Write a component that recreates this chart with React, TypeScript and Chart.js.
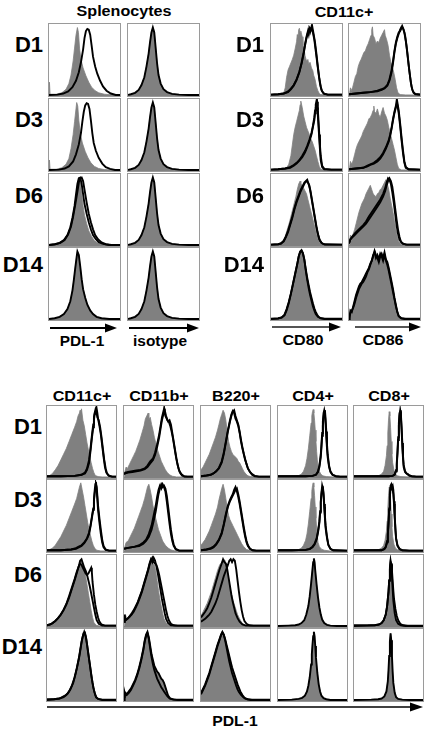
import React, { useEffect, useRef } from "react";
import { Chart, registerables } from "chart.js";
Chart.register(...registerables);

type P = number[][];

// ---------- row / column labels ----------
const ROW_LABELS = ["D1", "D3", "D6", "D14"];
const SPL_TITLE = "Splenocytes";
const DC_TITLE = "CD11c+";
const SPL_AXES = ["PDL-1", "isotype"];
const DC_AXES = ["CD80", "CD86"];
const BOT_HEADERS = ["CD11c+", "CD11b+", "B220+", "CD4+", "CD8+"];
const BOT_AXIS = "PDL-1";

// ---------- Splenocytes: PDL-1 ----------
const S_PDL_D1_G: P = [[0,0],[0.6,18],[1.5,1],[10,1],[18,3],[24,8],[28,16],[31,28],[34,48],[36,66],[38,84],[40,95],[41.5,88],[43,66],[45,50],[48,38],[52,27],[56,18],[60,11],[65,6],[70,3],[78,1],[90,0],[100,0]];
const S_PDL_D1_K: P = [[0,0],[12,0.5],[20,2],[27,5],[33,11],[38,20],[42,32],[45,46],[48,64],[50,80],[52,90],[54,93],[56,92],[58,85],[60,70],[62,54],[65,40],[68,30],[72,20],[76,12],[81,6],[87,2],[94,0],[100,0]];
const S_PDL_D3_G: P = [[0,0],[0.6,14],[1.5,1],[10,1],[18,3],[24,8],[28,16],[31,30],[34,50],[36,68],[38,86],[39,95],[40.5,90],[42,70],[44,52],[47,38],[51,26],[55,17],[59,10],[64,5],[70,2],[78,0.5],[90,0],[100,0]];
const S_PDL_D3_K: P = [[0,0],[14,0.5],[22,2],[28,5],[34,12],[38,22],[42,36],[45,52],[47,68],[49,82],[51,91],[53,94],[55,93],[57,86],[59,70],[61,52],[63,38],[66,27],[70,17],[75,9],[80,4],[86,1.5],[93,0],[100,0]];
const S_PDL_D6_G: P = [[0,0],[8,1],[15,3],[21,7],[26,14],[30,24],[33,36],[36,52],[38,68],[40,84],[42,94],[44,88],[46,72],[48,55],[50,42],[53,30],[56,20],[60,12],[64,6],[68,3],[75,1],[85,0],[100,0]];
const S_PDL_D6_K1: P = [[0,0],[8,1],[15,3],[21,7],[26,14],[30,25],[33,38],[36,55],[38,71],[40,86],[42,94],[44,95],[46,86],[48,72],[50,58],[53,44],[56,32],[59,22],[62,14],[66,8],[70,4],[76,1.5],[85,0],[100,0]];
const S_PDL_D6_K2: P = [[0,0],[9,1],[16,3],[22,7],[27,15],[31,26],[34,40],[37,57],[40,75],[42,88],[44,94],[46,95],[48,90],[50,78],[53,60],[56,44],[59,32],[62,22],[65,14],[69,8],[74,3.5],[80,1],[88,0],[100,0]];
const S_PDL_D14_G: P = [[0,0],[8,1],[15,3],[21,7],[26,14],[30,25],[33,40],[35,55],[37,72],[39,88],[40,95],[42,90],[44,74],[46,56],[48,42],[51,30],[54,20],[58,12],[62,7],[67,3],[74,1],[85,0],[100,0]];
// ---------- Splenocytes: isotype ----------
const S_ISO: P = [[0,0],[4,1],[10,3],[15,7],[19,14],[23,25],[26,40],[29,58],[31,74],[33,88],[35,95],[37,88],[39,66],[41,44],[43,28],[46,16],[50,8],[55,4],[62,1.5],[72,0.5],[85,0],[100,0]];

// ---------- CD11c+: CD80 ----------
const C80_D1_G: P = [[0,0],[10,0.5],[15,1],[18,3],[20,10],[22,25],[24,35],[26,40],[28,45],[30,50],[32,56],[34,65],[36,75],[37,85],[38,80],[39,92],[40,94],[41,88],[42,90],[44,82],[45,70],[47,62],[48,55],[50,48],[52,50],[53,44],[55,46],[57,38],[59,34],[60,28],[62,22],[64,12],[66,6],[68,2],[70,0.5],[80,0],[100,0]];
const C80_D1_K1: P = [[0,0.5],[10,1],[18,2],[24,5],[28,9],[32,14],[36,22],[40,33],[43,45],[46,60],[48,72],[50,82],[52,90],[53,86],[54,95],[56,92],[57,96],[59,88],[61,78],[63,62],[65,46],[67,30],[69,16],[71,7],[74,2],[80,0.5],[100,0.5]];
const C80_D1_K2: P = [[0,0.5],[10,1],[18,2],[24,4],[28,8],[32,13],[36,21],[40,32],[43,44],[46,58],[48,70],[50,80],[52,88],[54,92],[55,88],[57,94],[58,97],[60,86],[62,74],[64,58],[66,40],[68,24],[70,12],[72,5],[75,1.5],[80,0.5],[100,0.5]];
const C80_D3_G: P = [[0,0],[10,0.5],[18,1],[22,3],[25,8],[28,20],[30,35],[32,50],[34,60],[36,68],[38,76],[40,84],[41,92],[42,97],[44,88],[46,76],[48,68],[50,60],[52,55],[54,50],[56,44],[58,40],[60,34],[62,28],[64,20],[66,12],[68,5],[70,1],[80,0],[100,0]];
const C80_D3_K1: P = [[0,0.5],[10,1],[20,2],[27,4],[32,7],[36,10],[40,14],[44,20],[48,27],[51,34],[54,42],[57,52],[59,62],[61,74],[62,84],[63,92],[64,97],[65,88],[66,76],[67,60],[68,44],[69,28],[70,14],[72,4],[75,1],[85,0.5],[100,0.5]];
const C80_D3_K2: P = [[0,0.5],[10,1],[20,2],[27,3],[32,6],[36,9],[40,13],[44,18],[48,25],[51,32],[54,40],[57,50],[59,60],[61,70],[62,80],[63,88],[64,92],[65,96],[66,84],[67,68],[68,50],[69,34],[70,20],[72,6],[75,1.5],[85,0.5],[100,0.5]];
const C80_D6_G: P = [[0,0],[10,0.5],[13,2],[17,6],[20,12],[23,22],[26,32],[29,44],[32,56],[35,68],[37,78],[39,86],[41,90],[42,86],[44,84],[46,80],[48,76],[50,72],[52,64],[54,56],[56,48],[58,40],[60,32],[62,24],[64,16],[66,9],[68,4],[71,1],[75,0],[100,0]];
const C80_D6_K1: P = [[0,0.5],[10,1],[14,2],[18,6],[21,12],[24,20],[27,30],[30,40],[33,52],[36,62],[39,70],[42,78],[45,84],[47,88],[49,90],[51,92],[53,86],[55,78],[57,66],[59,54],[61,42],[63,30],[65,20],[67,12],[69,6],[72,2],[76,0.5],[100,0.5]];
const C80_D6_K2: P = [[0,0.5],[10,1],[14,2],[18,5],[21,11],[24,18],[27,28],[30,38],[33,50],[36,60],[39,68],[42,76],[45,82],[47,86],[48,88],[50,90],[52,88],[54,84],[56,74],[58,62],[60,50],[62,38],[64,26],[66,16],[68,8],[71,3],[75,1],[100,0.5]];
const C80_D14_G: P = [[0,0],[10,0.5],[15,2],[19,6],[22,14],[25,24],[28,36],[31,50],[34,64],[37,78],[39,88],[41,94],[43,96],[45,92],[47,84],[49,70],[51,58],[53,48],[55,38],[57,30],[59,22],[61,15],[63,10],[65,6],[67,3],[70,1],[75,0],[100,0]];
const C80_D14_K: P = [[0,0.5],[10,1],[15,2],[19,5],[22,12],[25,22],[28,35],[31,49],[34,63],[37,77],[39,88],[41,95],[43,97],[45,93],[47,83],[49,68],[51,55],[53,44],[55,34],[57,26],[59,18],[61,12],[63,7],[66,3],[70,1],[76,0.5],[100,0.5]];

// ---------- CD11c+: CD86 ----------
const C86_D1_G: P = [[0,0],[1,3],[2,10],[3,6],[5,10],[7,18],[9,26],[11,30],[13,40],[15,46],[17,50],[19,55],[21,60],[23,62],[25,68],[27,72],[29,78],[31,84],[32,92],[33,96],[34,84],[36,80],[38,72],[40,76],[42,74],[44,80],[46,84],[48,88],[50,92],[51,84],[53,78],[55,70],[57,56],[59,46],[61,40],[63,32],[65,22],[67,10],[69,3],[72,0.5],[80,0],[100,0]];
const C86_D1_K1: P = [[0,1],[10,2],[20,3],[30,4],[40,6],[46,8],[50,10],[54,14],[57,22],[60,35],[62,48],[64,62],[66,74],[68,82],[70,88],[72,90],[74,94],[75,97],[77,92],[79,84],[81,70],[83,52],[85,34],[87,18],[89,8],[91,3],[94,1],[100,0.5]];
const C86_D1_K2: P = [[0,1],[10,2],[20,3],[30,4],[40,5],[46,7],[50,9],[54,13],[57,20],[60,32],[62,45],[64,60],[66,72],[68,80],[70,86],[72,92],[74,96],[76,94],[78,88],[80,76],[82,60],[84,42],[86,26],[88,12],[90,5],[93,1.5],[100,0.5]];
const C86_D3_G: P = [[0,0],[1,4],[2,12],[4,8],[6,14],[8,22],[10,30],[12,36],[14,40],[16,44],[18,48],[20,54],[22,58],[24,62],[26,66],[28,72],[30,74],[32,78],[34,84],[35,90],[36,82],[38,80],[40,86],[42,78],[44,74],[46,82],[48,88],[50,80],[52,76],[54,70],[56,60],[58,52],[60,44],[62,36],[64,28],[66,18],[68,8],[70,2],[74,0],[100,0]];
const C86_D3_K1: P = [[0,1],[10,2],[20,3],[26,6],[30,8],[35,10],[40,14],[44,18],[48,24],[52,32],[56,42],[58,50],[60,60],[62,72],[64,82],[66,90],[67,97],[68,92],[70,80],[72,62],[74,42],[76,24],[78,10],[80,3],[84,1],[100,0.5]];
const C86_D3_K2: P = [[0,1],[10,2],[20,3],[26,5],[30,7],[35,9],[40,12],[44,16],[48,22],[52,30],[56,40],[58,48],[60,58],[62,70],[64,80],[66,88],[67,92],[68,96],[70,84],[72,66],[74,46],[76,28],[78,12],[80,4],[84,1],[100,0.5]];
const C86_D6_G: P = [[0,0],[1,5],[2,14],[4,10],[6,16],[8,22],[10,30],[12,38],[14,46],[16,52],[18,58],[20,62],[22,66],[24,72],[26,76],[28,80],[30,84],[32,78],[34,72],[36,70],[38,68],[40,72],[42,74],[44,78],[46,80],[48,84],[50,88],[52,92],[54,86],[56,78],[58,66],[60,56],[62,46],[64,34],[66,22],[68,12],[70,5],[73,1],[78,0],[100,0]];
const C86_D6_K1: P = [[0,2],[2,8],[4,10],[8,14],[12,18],[16,22],[20,26],[24,30],[28,36],[32,42],[36,48],[40,54],[44,60],[48,68],[51,76],[53,84],[55,90],[57,94],[59,90],[61,82],[63,68],[65,52],[67,36],[69,22],[71,12],[73,5],[76,1.5],[82,0.5],[100,0.5]];
const C86_D6_K2: P = [[0,2],[2,8],[4,11],[8,16],[12,20],[16,24],[20,28],[24,33],[28,40],[32,46],[36,52],[40,58],[44,64],[48,72],[51,80],[53,88],[55,94],[57,92],[59,86],[61,74],[63,60],[65,44],[67,28],[69,16],[71,8],[74,3],[80,0.5],[100,0.5]];
const C86_D14_G: P = [[0,0],[1,4],[2,12],[4,10],[6,18],[8,26],[10,34],[12,40],[14,46],[16,50],[18,52],[20,56],[22,60],[24,64],[26,68],[28,72],[30,78],[32,82],[34,88],[36,96],[38,90],[40,86],[42,80],[44,88],[46,92],[48,86],[50,94],[52,84],[54,80],[56,72],[58,62],[60,52],[62,42],[64,30],[66,20],[68,10],[70,4],[73,1],[78,0],[100,0]];
const C86_D14_K: P = [[0,1],[2,8],[4,12],[6,16],[8,22],[10,30],[12,36],[14,42],[16,46],[18,50],[20,52],[22,56],[24,60],[26,66],[28,70],[30,76],[32,82],[34,90],[36,94],[38,86],[40,90],[42,84],[44,92],[46,88],[48,82],[50,90],[52,82],[54,76],[56,68],[58,58],[60,48],[62,38],[64,28],[66,18],[68,10],[70,4],[74,1],[80,0.5],[100,0.5]];

// ---------- bottom: CD11c+ ----------
const B1_D1_G: P = [[0,0],[4,2],[8,5],[12,10],[16,16],[20,24],[24,32],[28,40],[32,50],[36,60],[40,70],[43,78],[45,86],[47,90],[48,94],[49,88],[50,96],[52,80],[54,72],[56,60],[58,48],[60,38],[62,28],[64,20],[66,12],[68,6],[70,2],[74,0.5],[80,0],[100,0]];
const B1_D1_K1: P = [[0,1],[20,1],[40,1.5],[50,3],[55,6],[58,12],[61,24],[63,40],[65,58],[67,74],[68,84],[69,90],[70,94],[71,88],[72,96],[73,90],[74,82],[76,72],[78,60],[80,44],[82,28],[84,14],[86,6],[89,2],[94,0.5],[100,0.5]];
const B1_D1_K2: P = [[0,1],[20,1],[40,1.5],[50,3],[55,5],[58,10],[61,20],[63,36],[65,54],[67,70],[68,80],[69,88],[70,92],[71,96],[72,90],[73,84],[75,80],[77,70],[79,56],[81,40],[83,24],[85,12],[87,5],[90,1.5],[95,0.5],[100,0.5]];
const B1_D3_G: P = [[0,0],[4,2],[8,4],[12,8],[16,14],[20,20],[24,28],[28,36],[32,46],[36,56],[40,66],[43,74],[45,82],[47,90],[49,96],[51,86],[53,76],[55,64],[57,52],[59,40],[61,30],[63,22],[65,14],[67,8],[69,4],[72,1],[78,0],[100,0]];
const B1_D3_K1: P = [[0,1],[20,1],[35,2],[42,4],[46,6],[50,8],[54,12],[58,18],[61,26],[63,36],[65,48],[67,60],[68,72],[69,84],[70,94],[71,97],[72,86],[73,72],[74,58],[76,40],[78,24],[80,12],[82,5],[85,1.5],[90,0.5],[100,0.5]];
const B1_D3_K2: P = [[0,1],[20,1],[35,2],[42,3],[46,5],[50,7],[54,11],[58,17],[61,24],[63,34],[65,46],[67,58],[68,70],[69,80],[70,88],[71,94],[72,90],[73,78],[74,64],[76,46],[78,30],[80,16],[82,7],[85,2],[90,0.5],[100,0.5]];
const B1_D6_G: P = [[0,0],[4,2],[8,4],[12,7],[16,11],[20,16],[24,22],[28,30],[32,40],[36,52],[40,64],[43,74],[46,84],[48,90],[50,92],[52,86],[54,80],[56,70],[58,58],[60,46],[62,34],[64,22],[66,12],[68,5],[71,1],[76,0],[100,0]];
const B1_D6_K1: P = [[0,1],[4,2],[8,4],[12,7],[16,11],[20,16],[24,22],[28,30],[32,40],[36,52],[40,64],[43,74],[46,84],[48,92],[50,94],[52,88],[54,82],[56,78],[58,72],[60,64],[62,56],[64,46],[66,36],[68,26],[70,16],[72,8],[75,3],[80,0.5],[100,0.5]];
const B1_D6_K2: P = [[0,1],[4,2],[8,4],[12,7],[16,11],[20,16],[24,23],[28,31],[32,42],[36,54],[40,66],[43,76],[46,84],[48,88],[50,86],[52,82],[54,78],[56,74],[58,72],[60,74],[62,78],[64,82],[65,76],[66,62],[68,44],[70,30],[72,20],[74,12],[76,6],[79,2],[84,0.5],[100,0.5]];
const B1_D14_G: P = [[0,0],[10,1],[18,2],[24,4],[28,7],[32,12],[36,20],[40,32],[43,44],[46,58],[48,70],[50,82],[52,90],[54,96],[56,90],[58,78],[60,64],[62,50],[64,36],[66,24],[68,14],[70,7],[72,3],[75,1],[80,0],[100,0]];
const B1_D14_K: P = [[0,1],[10,1],[18,2],[22,4],[26,6],[30,9],[34,15],[38,24],[41,35],[44,48],[47,62],[49,74],[51,86],[53,94],[55,95],[57,86],[59,72],[61,58],[63,44],[65,30],[67,18],[69,10],[71,4],[74,1.5],[80,0.5],[100,0.5]];

// ---------- bottom: CD11b+ ----------
const B2_D1_G: P = [[0,0],[1,6],[3,14],[5,12],[8,18],[11,24],[14,30],[17,36],[20,44],[23,52],[26,62],[29,72],[31,82],[33,86],[35,90],[36,80],[38,84],[40,74],[42,66],[44,56],[46,48],[48,40],[50,34],[52,28],[54,22],[57,16],[60,10],[63,6],[66,3],[70,1],[76,0],[100,0]];
const B2_D1_K1: P = [[0,4],[2,6],[6,7],[12,8],[18,9],[24,10],[30,12],[34,16],[38,22],[42,26],[45,34],[48,46],[51,60],[53,72],[55,84],[57,92],[58,96],[59,90],[60,86],[62,82],[64,78],[66,80],[68,74],[70,62],[72,50],[74,38],[76,26],[78,16],[80,9],[83,4],[87,1],[92,0.5],[100,0.5]];
const B2_D1_K2: P = [[0,4],[2,5],[6,6],[12,7],[18,8],[24,9],[30,11],[34,14],[38,19],[42,24],[45,31],[48,42],[51,56],[53,68],[55,80],[57,88],[58,92],[59,94],[61,86],[63,80],[65,78],[67,72],[69,64],[71,54],[73,42],[75,30],[77,20],[79,12],[81,6],[84,2],[88,0.5],[100,0.5]];
const B2_D3_G: P = [[0,0],[1,5],[3,12],[6,14],[9,20],[12,26],[15,32],[18,40],[21,48],[24,56],[27,64],[30,74],[32,82],[34,90],[36,94],[38,86],[40,76],[42,64],[44,54],[46,46],[48,38],[50,30],[53,22],[56,14],[60,8],[64,4],[68,1.5],[74,0],[100,0]];
const B2_D3_K1: P = [[0,3],[4,4],[10,5],[16,6],[22,8],[28,12],[32,16],[36,24],[40,36],[43,50],[46,64],[48,76],[50,86],[52,92],[54,88],[56,94],[58,90],[60,84],[62,70],[64,54],[66,38],[68,24],[70,14],[72,7],[75,2],[80,0.5],[100,0.5]];
const B2_D3_K2: P = [[0,3],[4,4],[10,5],[16,6],[22,7],[28,10],[32,14],[36,20],[40,30],[43,42],[46,56],[48,68],[50,80],[52,88],[54,94],[56,90],[58,92],[60,88],[62,78],[64,62],[66,46],[68,30],[70,18],[72,9],[75,3],[80,0.5],[100,0.5]];
const B2_D6_G: P = [[0,0],[1,8],[2,16],[4,10],[7,14],[10,18],[13,22],[16,26],[19,32],[22,40],[25,48],[28,58],[31,68],[34,78],[36,86],[38,92],[40,94],[42,88],[44,86],[46,78],[48,64],[50,50],[52,38],[54,28],[56,18],[58,10],[61,4],[65,1],[70,0],[100,0]];
const B2_D6_K1: P = [[0,6],[1,16],[2,8],[5,10],[8,13],[11,17],[14,22],[17,28],[20,34],[23,42],[26,50],[29,60],[32,70],[35,80],[37,88],[39,94],[41,90],[43,96],[45,92],[47,84],[49,74],[51,62],[53,50],[55,38],[57,28],[59,18],[61,10],[64,4],[68,1],[75,0.5],[100,0.5]];
const B2_D6_K2: P = [[0,6],[1,14],[2,8],[5,10],[8,13],[11,16],[14,20],[17,26],[20,32],[23,40],[26,48],[29,58],[32,68],[35,78],[37,86],[39,92],[41,96],[43,90],[45,88],[47,86],[49,80],[51,72],[53,62],[55,52],[57,42],[59,32],[61,22],[63,14],[65,8],[68,3],[72,1],[78,0.5],[100,0.5]];
const B2_D14_G: P = [[0,0],[1,6],[2,10],[4,8],[7,12],[10,16],[13,22],[16,28],[19,36],[22,46],[25,58],[28,72],[30,84],[32,92],[34,96],[36,88],[38,76],[40,64],[42,56],[44,48],[46,44],[48,40],[50,38],[52,34],[54,30],[56,28],[58,24],[60,18],[62,12],[64,6],[67,2],[72,0.5],[78,0],[100,0]];
const B2_D14_K: P = [[0,4],[1,10],[2,6],[4,7],[7,10],[10,14],[13,20],[16,26],[19,34],[22,44],[25,56],[28,70],[30,82],[32,90],[34,94],[36,86],[38,72],[40,60],[42,50],[44,42],[46,36],[48,30],[50,26],[52,22],[54,18],[56,15],[58,12],[60,9],[63,5],[66,2],[70,1],[76,0.5],[100,0.5]];

// ---------- bottom: B220+ ----------
const B3_D1_G: P = [[0,10],[3,14],[6,20],[9,26],[12,32],[15,40],[18,48],[21,56],[24,66],[26,74],[28,82],[30,88],[32,94],[34,90],[36,80],[38,64],[40,50],[42,42],[44,36],[46,32],[48,30],[50,28],[52,26],[54,22],[56,20],[58,16],[60,12],[62,8],[65,4],[68,1.5],[72,0.5],[78,0],[100,0]];
const B3_D1_K1: P = [[0,1],[8,2],[14,3],[18,5],[22,8],[26,13],[30,22],[33,34],[36,50],[39,66],[42,80],[44,88],[46,93],[48,90],[50,82],[52,78],[54,72],[56,62],[58,50],[60,40],[62,32],[64,24],[66,18],[68,12],[71,7],[74,4],[78,1.5],[84,0.5],[100,0.5]];
const B3_D1_K2: P = [[0,1],[8,2],[14,3],[18,5],[22,8],[26,12],[30,20],[33,32],[36,48],[39,64],[42,78],[44,86],[46,92],[48,94],[50,86],[52,80],[54,74],[56,64],[58,52],[60,42],[62,33],[64,25],[66,18],[68,12],[71,7],[74,3],[78,1],[84,0.5],[100,0.5]];
const B3_D3_G: P = [[0,8],[3,12],[6,16],[9,22],[12,28],[15,36],[18,44],[21,52],[24,62],[26,72],[28,80],[30,88],[32,94],[34,86],[36,74],[38,60],[40,50],[42,44],[44,40],[46,36],[48,32],[50,28],[53,22],[56,16],[59,10],[62,6],[66,2],[72,0.5],[78,0],[100,0]];
const B3_D3_K1: P = [[0,1],[8,2],[14,4],[18,6],[22,10],[26,16],[30,26],[33,38],[36,52],[39,64],[42,72],[44,76],[46,80],[48,86],[50,90],[52,84],[54,76],[56,66],[58,54],[60,42],[62,30],[64,20],[66,12],[68,7],[71,3],[75,1],[80,0.5],[100,0.5]];
const B3_D3_K2: P = [[0,1],[8,2],[14,3],[18,5],[22,9],[26,15],[30,24],[33,36],[36,50],[39,62],[42,70],[44,74],[46,78],[48,82],[50,86],[52,88],[54,80],[56,70],[58,58],[60,46],[62,34],[64,23],[66,14],[68,8],[71,3],[75,1],[80,0.5],[100,0.5]];
const B3_D6_G: P = [[0,14],[3,20],[6,26],[9,32],[12,40],[15,48],[18,58],[21,68],[24,78],[27,86],[30,90],[33,94],[35,92],[37,84],[39,72],[41,60],[43,50],[45,42],[47,34],[49,28],[51,22],[53,16],[56,10],[59,5],[62,2],[66,0.5],[72,0],[100,0]];
const B3_D6_K1: P = [[0,12],[3,16],[6,20],[9,25],[12,32],[15,40],[18,50],[21,60],[24,70],[27,80],[30,88],[32,94],[34,90],[36,88],[38,80],[40,68],[42,56],[44,44],[46,34],[48,26],[50,18],[53,11],[56,6],[60,2],[65,0.5],[100,0.5]];
const B3_D6_K2: P = [[0,6],[3,8],[6,10],[9,13],[12,16],[15,20],[18,26],[21,32],[24,40],[27,50],[30,60],[33,70],[36,78],[39,86],[41,92],[43,94],[45,90],[47,94],[49,92],[51,80],[53,64],[55,48],[57,34],[59,22],[61,13],[63,7],[66,3],[70,1],[76,0.5],[100,0.5]];
const B3_D14_G: P = [[0,10],[3,16],[6,22],[9,30],[12,38],[15,48],[18,58],[21,68],[24,78],[27,86],[29,92],[31,96],[33,92],[35,86],[37,78],[39,70],[41,62],[43,54],[45,46],[47,40],[49,34],[51,28],[53,22],[55,17],[57,12],[60,7],[63,3],[67,1],[72,0],[100,0]];
const B3_D14_K: P = [[0,8],[3,14],[6,20],[9,28],[12,36],[15,46],[18,56],[21,66],[24,76],[27,85],[29,91],[31,95],[33,92],[35,84],[37,74],[39,64],[41,54],[43,46],[45,38],[47,32],[49,26],[51,20],[53,15],[55,11],[58,7],[61,4],[64,2],[68,1],[74,0.5],[100,0.5]];

// ---------- bottom: CD4+ ----------
const B4_D1_G: P = [[0,0],[15,0.5],[25,1],[30,2],[34,4],[37,8],[40,16],[42,26],[44,40],[46,58],[48,76],[49,86],[50,92],[51,95],[52,90],[53,80],[54,66],[55,50],[56,36],[57,24],[58,15],[60,8],[62,4],[65,1.5],[70,0.5],[80,0],[100,0]];
const B4_D1_K1: P = [[0,1],[20,1],[40,1],[50,1.5],[55,3],[58,8],[60,16],[62,32],[63,46],[64,62],[65,78],[66,90],[67,94],[68,88],[69,74],[70,56],[71,40],[72,28],[74,14],[76,7],[79,3],[84,1],[90,0.5],[100,0.5]];
const B4_D1_K2: P = [[0,1],[20,1],[40,1],[50,1.5],[55,3],[58,7],[60,14],[62,28],[63,42],[64,58],[65,72],[66,84],[67,92],[68,94],[69,82],[70,64],[71,46],[72,32],[74,16],[76,8],[79,3],[84,1],[90,0.5],[100,0.5]];
const B4_D3_G: P = [[0,0],[15,0.5],[25,1],[30,2],[34,4],[37,8],[40,15],[42,24],[44,38],[46,56],[48,74],[49,84],[50,92],[51,96],[52,90],[53,78],[54,62],[55,46],[56,32],[57,20],[58,12],[60,6],[63,2.5],[67,1],[75,0],[100,0]];
const B4_D3_K1: P = [[0,1],[20,1],[40,1.5],[46,3],[50,6],[53,10],[56,18],[58,28],[60,42],[61,56],[62,70],[63,82],[64,92],[65,88],[66,78],[67,62],[68,46],[69,32],[71,18],[73,8],[76,3],[80,1],[100,0.5]];
const B4_D3_K2: P = [[0,1],[20,1],[40,1.5],[46,2.5],[50,5],[53,9],[56,16],[58,26],[60,40],[61,54],[62,68],[63,80],[64,88],[65,90],[66,82],[67,66],[68,50],[69,36],[71,20],[73,9],[76,3],[80,1],[100,0.5]];
const B4_D6_G: P = [[0,0],[15,0.5],[25,1],[30,2],[34,4],[38,8],[41,16],[44,28],[46,42],[48,60],[50,80],[51,90],[52,95],[53,90],[54,78],[56,58],[58,40],[60,26],[62,16],[64,9],[67,4],[71,1.5],[76,0.5],[85,0],[100,0]];
const B4_D14_G: P = [[0,0],[20,0.5],[30,1.5],[35,3],[39,6],[42,12],[44,20],[46,32],[48,50],[49,64],[50,78],[51,90],[52,96],[53,90],[54,76],[55,60],[57,38],[59,22],[61,12],[63,6],[66,2.5],[70,1],[76,0],[100,0]];

// ---------- bottom: CD8+ ----------
const B5_D1_G: P = [[0,0],[20,0.5],[30,1],[36,2],[40,4],[43,8],[45,16],[47,30],[48,44],[49,62],[50,80],[51,92],[52,86],[53,70],[54,50],[55,32],[56,20],[58,9],[60,4],[63,1.5],[68,0.5],[80,0],[100,0]];
const B5_D1_K1: P = [[0,1],[30,1],[50,1],[56,1.5],[59,4],[61,10],[62,20],[63,36],[64,56],[65,76],[66,90],[67,92],[68,84],[69,66],[70,44],[71,26],[72,14],[74,7],[76,5],[78,4],[80,2],[84,1],[90,0.5],[100,0.5]];
const B5_D1_K2: P = [[0,1],[30,1],[50,1],[56,1.5],[59,3],[61,8],[62,17],[63,32],[64,52],[65,72],[66,86],[67,94],[68,88],[69,70],[70,48],[71,30],[72,17],[74,8],[76,5],[78,3.5],[80,2],[84,1],[90,0.5],[100,0.5]];
const B5_D3_G: P = [[0,0],[20,0.5],[30,1],[36,2],[40,4],[43,8],[45,15],[47,28],[48,42],[49,60],[50,78],[51,90],[52,88],[53,72],[54,52],[55,34],[56,20],[58,9],[60,4],[63,1.5],[68,0.5],[80,0],[100,0]];
const B5_D3_K1: P = [[0,1],[30,1],[40,1],[44,3],[46,6],[48,14],[49,24],[50,40],[51,60],[52,80],[53,92],[54,94],[55,90],[56,92],[57,86],[58,70],[59,50],[60,32],[61,18],[63,8],[66,3],[70,1],[80,0.5],[100,0.5]];
const B5_D3_K2: P = [[0,1],[30,1],[40,1],[44,2.5],[46,5],[48,12],[49,22],[50,38],[51,58],[52,76],[53,88],[54,92],[55,94],[56,88],[57,80],[58,66],[59,48],[60,30],[61,17],[63,7],[66,2.5],[70,1],[80,0.5],[100,0.5]];
const B5_D6_G: P = [[0,0],[20,0.5],[30,1],[36,2],[40,4],[43,8],[46,16],[48,28],[50,48],[51,64],[52,82],[53,92],[54,86],[55,70],[56,52],[57,36],[59,18],[61,8],[64,3],[68,1],[75,0],[100,0]];
const B5_D6_K2: P = [[0,1],[20,1],[30,1],[36,2],[40,4],[43,8],[46,16],[48,28],[50,48],[51,64],[52,80],[53,90],[54,88],[55,78],[56,64],[57,50],[58,38],[60,24],[62,14],[64,8],[67,3],[71,1],[78,0.5],[100,0.5]];
const B5_D14_G: P = [[0,0],[25,0.5],[35,1],[40,2],[44,5],[47,12],[49,26],[50,42],[51,62],[52,82],[53,94],[54,84],[55,62],[56,40],[57,24],[59,10],[61,4],[64,1.5],[70,0.5],[80,0],[100,0]];

// ---------- panel table: [gray, black lines] per row, per column ----------
type Cell = [P, P[]];
const SPL_COLS: Cell[][] = [
  [[S_PDL_D1_G, [S_PDL_D1_K]], [S_PDL_D3_G, [S_PDL_D3_K]], [S_PDL_D6_G, [S_PDL_D6_K1, S_PDL_D6_K2]], [S_PDL_D14_G, [S_PDL_D14_G]]],
  [[S_ISO, [S_ISO]], [S_ISO, [S_ISO]], [S_ISO, [S_ISO]], [S_ISO, [S_ISO]]],
];
const DC_COLS: Cell[][] = [
  [[C80_D1_G, [C80_D1_K1, C80_D1_K2]], [C80_D3_G, [C80_D3_K1, C80_D3_K2]], [C80_D6_G, [C80_D6_K1, C80_D6_K2]], [C80_D14_G, [C80_D14_K, C80_D14_G]]],
  [[C86_D1_G, [C86_D1_K1, C86_D1_K2]], [C86_D3_G, [C86_D3_K1, C86_D3_K2]], [C86_D6_G, [C86_D6_K1, C86_D6_K2]], [C86_D14_G, [C86_D14_K, C86_D14_G]]],
];
const BOT_COLS: Cell[][] = [
  [[B1_D1_G, [B1_D1_K1, B1_D1_K2]], [B1_D3_G, [B1_D3_K1, B1_D3_K2]], [B1_D6_G, [B1_D6_K1, B1_D6_K2]], [B1_D14_G, [B1_D14_K, B1_D14_G]]],
  [[B2_D1_G, [B2_D1_K1, B2_D1_K2]], [B2_D3_G, [B2_D3_K1, B2_D3_K2]], [B2_D6_G, [B2_D6_K1, B2_D6_K2]], [B2_D14_G, [B2_D14_K, B2_D14_G]]],
  [[B3_D1_G, [B3_D1_K1, B3_D1_K2]], [B3_D3_G, [B3_D3_K1, B3_D3_K2]], [B3_D6_G, [B3_D6_K1, B3_D6_K2]], [B3_D14_G, [B3_D14_K, B3_D14_G]]],
  [[B4_D1_G, [B4_D1_K1, B4_D1_K2]], [B4_D3_G, [B4_D3_K1, B4_D3_K2]], [B4_D6_G, [B4_D6_G]], [B4_D14_G, [B4_D14_G]]],
  [[B5_D1_G, [B5_D1_K1, B5_D1_K2]], [B5_D3_G, [B5_D3_K1, B5_D3_K2]], [B5_D6_G, [B5_D6_G, B5_D6_K2]], [B5_D14_G, [B5_D14_G]]],
];

const GRAY = "#808080";
const FONT = "'Liberation Sans', Arial, Helvetica, sans-serif";

function Hist({ left, top, w, h, cell }: { left: number; top: number; w: number; h: number; cell: Cell }) {
  const ref = useRef<HTMLCanvasElement>(null);
  useEffect(() => {
    if (!ref.current) return;
    const toXY = (p: P) => p.map(([x, y]) => ({ x, y }));
    const [g, ks] = cell;
    const datasets: any[] = ks.map((k) => ({
      data: toXY(k), borderColor: "#000", borderWidth: 1.9, fill: false, pointRadius: 0, order: 1,
    }));
    datasets.push({
      data: toXY(g), borderColor: GRAY, backgroundColor: GRAY, borderWidth: 0.8, fill: "start", pointRadius: 0, order: 10,
    });
    const chart = new Chart(ref.current, {
      type: "line",
      data: { datasets },
      options: {
        animation: false, responsive: false, events: [],
        layout: { padding: 0 },
        plugins: { legend: { display: false }, tooltip: { enabled: false } },
        elements: { line: { tension: 0 } },
        scales: {
          x: { type: "linear", min: 0, max: 100, display: false },
          y: { type: "linear", min: -1.5, max: 100, display: false },
        },
      },
    });
    return () => chart.destroy();
  }, [cell, w, h]);
  return (
    <div style={{ position: "absolute", left, top, width: w, height: h, border: "1px solid #9a9a9a", boxSizing: "border-box", background: "#fff" }}>
      <canvas ref={ref} width={w - 2} height={h - 2} style={{ display: "block" }} />
    </div>
  );
}

function Txt({ text, cx, cy, size, sx = 1, align = "center", right }: { text: string; cx?: number; cy: number; size: number; sx?: number; align?: string; right?: number }) {
  const top = cy - size * 0.49;
  if (align === "right") {
    return (
      <div style={{ position: "absolute", left: (right as number) - 100, width: 100, top, textAlign: "right", fontFamily: FONT, fontWeight: "bold", fontSize: size, lineHeight: 1, whiteSpace: "nowrap", color: "#000" }}>{text}</div>
    );
  }
  return (
    <div style={{ position: "absolute", left: cx, top, transform: `translateX(-50%) scaleX(${sx})`, fontFamily: FONT, fontWeight: "bold", fontSize: size, lineHeight: 1, whiteSpace: "nowrap", color: "#000" }}>{text}</div>
  );
}

function Arrow({ x1, x2, y, color = "#000", head = "#000", hl = 12, hh = 9, sw = 2 }: any) {
  return (
    <g>
      <line x1={x1} y1={y} x2={x2 - hl + 1} y2={y} stroke={color} strokeWidth={sw} />
      <polygon points={`${x2 - hl},${y - hh / 2} ${x2},${y} ${x2 - hl},${y + hh / 2}`} fill={head} />
    </g>
  );
}

export default function App() {
  const splX = [48, 127];
  const dcX = [270, 348];
  const topY = [23, 98, 173, 247];
  const botX = [46, 123, 200, 277, 353];
  const botY = [405, 479, 554, 628];
  const topLabelY = [45, 120, 196, 265];
  const botLabelY = [427, 500, 575, 647];

  const panels: any[] = [];
  SPL_COLS.forEach((col, c) => col.forEach((cell, r) => panels.push(<Hist key={`s${c}${r}`} left={splX[c]} top={topY[r]} w={73} h={74} cell={cell} />)));
  DC_COLS.forEach((col, c) => col.forEach((cell, r) => panels.push(<Hist key={`d${c}${r}`} left={dcX[c]} top={topY[r]} w={73} h={74} cell={cell} />)));
  BOT_COLS.forEach((col, c) => col.forEach((cell, r) => panels.push(<Hist key={`b${c}${r}`} left={botX[c]} top={botY[r]} w={71} h={74} cell={cell} />)));

  return (
    <div style={{ position: "absolute", left: 0, top: 0, width: 430, height: 732, background: "#fff", overflow: "hidden" }}>
      {panels}
      <Txt text={SPL_TITLE} cx={124} cy={11} size={14} sx={1.15} />
      <Txt text={DC_TITLE} cx={344} cy={12} size={14} sx={1.15} />
      {ROW_LABELS.map((t, i) => <Txt key={`l1${i}`} text={t} align="right" right={43} cy={topLabelY[i]} size={22} />)}
      {ROW_LABELS.map((t, i) => <Txt key={`l2${i}`} text={t} align="right" right={264} cy={topLabelY[i]} size={22} />)}
      {ROW_LABELS.map((t, i) => <Txt key={`l3${i}`} text={t} align="right" right={42} cy={botLabelY[i]} size={22} />)}
      {BOT_HEADERS.map((t, i) => <Txt key={`h${i}`} text={t} cx={botX[i] + 36} cy={396} size={14} sx={1.15} />)}
      <Txt text={SPL_AXES[0]} cx={82} cy={341} size={14} sx={1.1} />
      <Txt text={SPL_AXES[1]} cx={160} cy={341} size={14} sx={1.1} />
      <Txt text={DC_AXES[0]} cx={303} cy={340} size={14} sx={1.15} />
      <Txt text={DC_AXES[1]} cx={383} cy={340} size={14} sx={1.15} />
      <Txt text={BOT_AXIS} cx={235} cy={720} size={15} sx={1.05} />
      <svg width={430} height={732} style={{ position: "absolute", left: 0, top: 0, pointerEvents: "none" }}>
        <Arrow x1={50} x2={117} y={328} />
        <Arrow x1={129} x2={199} y={328} />
        <Arrow x1={272} x2={341} y={327} color="#555" />
        <Arrow x1={355} x2={421} y={327} color="#555" />
        <Arrow x1={47} x2={423} y={707} sw={1.5} hl={13} hh={9} />
      </svg>
    </div>
  );
}
